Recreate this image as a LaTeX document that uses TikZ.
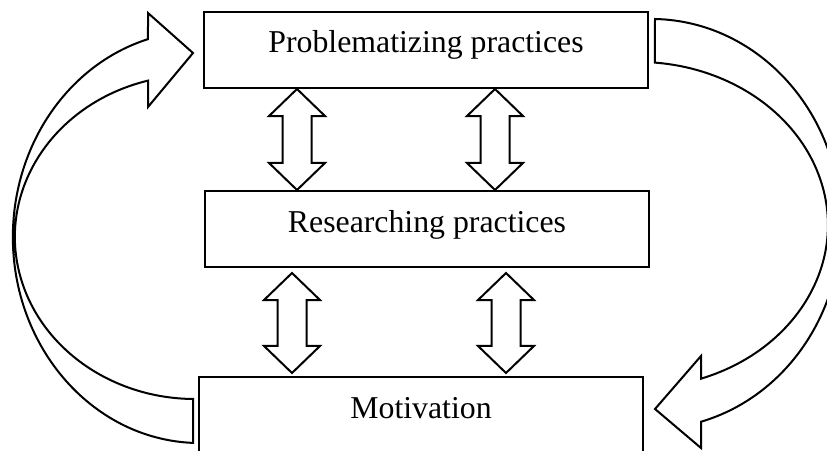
\documentclass[tikz,border=0pt]{standalone}
\usepackage{fontspec}
\setmainfont{Liberation Serif}
\usetikzlibrary{shapes.arrows}
\begin{document}
\begin{tikzpicture}[x=1pt,y=1pt,
  lw/.style={line width=2pt},
  box/.style={draw, lw, minimum width=444pt, minimum height=76pt, inner sep=0pt,
    text height=20pt, text depth=14pt, font=\fontsize{31.8}{38}\selectfont},
  dbl/.style={draw, lw, fill=white, shape=double arrow, rotate=90, minimum height=101pt,
    minimum width=54pt, inner xsep=0pt, inner ysep=13.5pt,
    double arrow head extend=13.5pt, double arrow tip angle=92},
  bigarrow/.style={draw, lw, line join=miter, fill=white}]
\clip (0,0) rectangle (827,450);
\fill[white] (0,0) rectangle (827,450);
% boxes
\node[box] (prob) at (426,400) {Problematizing practices};
\node[box] (res) at (427,220.5) {Researching practices};
\node[box] (mot) at (421,35) {Motivation};
% double arrows
\node[dbl] (pr1) at (297,310.5) {};
\node[dbl] (pr2) at (495,310.5) {};
\node[dbl, minimum height=100pt] (rm1) at (292,127) {};
\node[dbl, minimum height=100pt] (rm2) at (506,127) {};
% left curved arrow (Motivation -> Problematizing practices)
\coordinate (ltail) at (193,7.1);
\coordinate (ltip) at (193,397);
\draw[bigarrow] (ltail) arc[start angle=267.9, end angle=106.1, x radius=187, y radius=206]
  -- (148,437) -- (ltip) -- (148,343) -- (148,369.4)
  arc[start angle=105.1, end angle=269.4, x radius=180, y radius=162] -- cycle;
% right curved arrow (Problematizing practices -> Motivation)
\coordinate (rtail) at (655,431);
\coordinate (rtip) at (655,41);
\draw[bigarrow] (rtail) arc[start angle=88.8, end angle=-74.7, x radius=190, y radius=205]
  -- (701,2) -- (rtip) -- (701,94) -- (701,71.3)
  arc[start angle=-70.6, end angle=84.9, x radius=190, y radius=163] -- cycle;
\end{tikzpicture}
\end{document}
